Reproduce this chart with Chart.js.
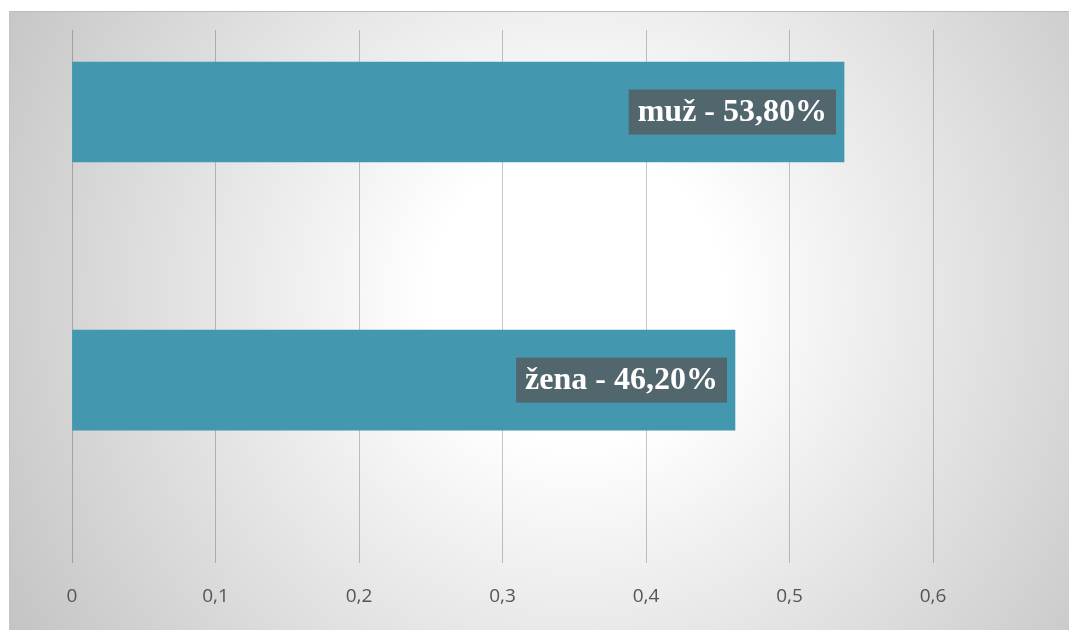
<!DOCTYPE html>
<html>
<head>
<meta charset="utf-8">
<script src="https://cdn.jsdelivr.net/npm/chart.js@4/dist/chart.umd.min.js"></script>
<style>
    html, body { margin: 0; padding: 0; background: #fff; }
    #wrap { position: relative; width: 1069px; height: 630px; overflow: hidden; }
    #bg {
        position: absolute; left: 9px; top: 11px; width: 1070px; height: 630px;
        border-top: 1px solid #bdbdbd; border-left: 1px solid #c4c4c4;
        background: radial-gradient(circle farthest-corner at 53% 45%, #ffffff 0%, #ffffff 22%, #c3c3c3 100%);
    }
    #chart { position: absolute; left: 0; top: 0; }
</style>
</head>
<body>
<div id="wrap">
    <div id="bg"></div>
    <canvas id="chart" width="1069" height="630"></canvas>
</div>
<script>
    const categories = ['muž', 'žena'];
    const shares = [0.538, 0.462];
    const xTicks = [0, 0.1, 0.2, 0.3, 0.4, 0.5, 0.6];

    const barColor = '#4397ae';
    const labelBox = '#52666d';

    function toComma(v, digits) {
        return v.toFixed(digits).replace('.', ',');
    }

    // label boxes drawn inside the bar ends
    const barLabels = {
        id: 'barLabels',
        afterDatasetsDraw(chart) {
            const ctx = chart.ctx;
            const meta = chart.getDatasetMeta(0);
            ctx.save();
            ctx.font = 'bold 32px "Liberation Serif", "Times New Roman", serif';
            ctx.textBaseline = 'middle';
            ctx.textAlign = 'left';
            meta.data.forEach((bar, i) => {
                const text = categories[i] + ' - ' + toComma(shares[i] * 100, 2) + '%';
                const w = ctx.measureText(text).width + 18;
                const h = 45;
                const right = bar.x - 8;
                ctx.fillStyle = labelBox;
                ctx.fillRect(right - w, bar.y - h / 2, w, h);
                ctx.fillStyle = '#ffffff';
                ctx.fillText(text, right - w + 9, bar.y + 1);
            });
            ctx.restore();
        }
    };

    const ctx = document.getElementById('chart').getContext('2d');
    new Chart(ctx, {
        type: 'bar',
        data: {
            datasets: [{
                data: categories.map((c, i) => ({ x: shares[i], y: i })),
                backgroundColor: barColor,
                borderWidth: 0,
                barThickness: 100
            }]
        },
        options: {
            indexAxis: 'y',
            responsive: false,
            animation: false,
            layout: { padding: { left: 72, right: 136, top: 30, bottom: 0 } },
            plugins: {
                legend: { display: false },
                tooltip: { enabled: false }
            },
            scales: {
                x: {
                    type: 'linear',
                    min: 0,
                    max: 0.6,
                    afterBuildTicks: (axis) => {
                        axis.ticks = xTicks.map(v => ({ value: v }));
                    },
                    grid: {
                        color: 'rgba(0,0,0,0.22)',
                        lineWidth: 1,
                        drawTicks: false
                    },
                    border: { display: false },
                    ticks: {
                        padding: 22,
                        color: '#555555',
                        font: { family: '"Open Sans", sans-serif', size: 19 },
                        callback: (v) => v === 0 ? '0' : toComma(v, 1)
                    }
                },
                y: {
                    type: 'linear',
                    display: false,
                    offset: false,
                    reverse: true,
                    min: -0.306,
                    max: 1.683
                }
            }
        },
        plugins: [barLabels]
    });
</script>
</body>
</html>
